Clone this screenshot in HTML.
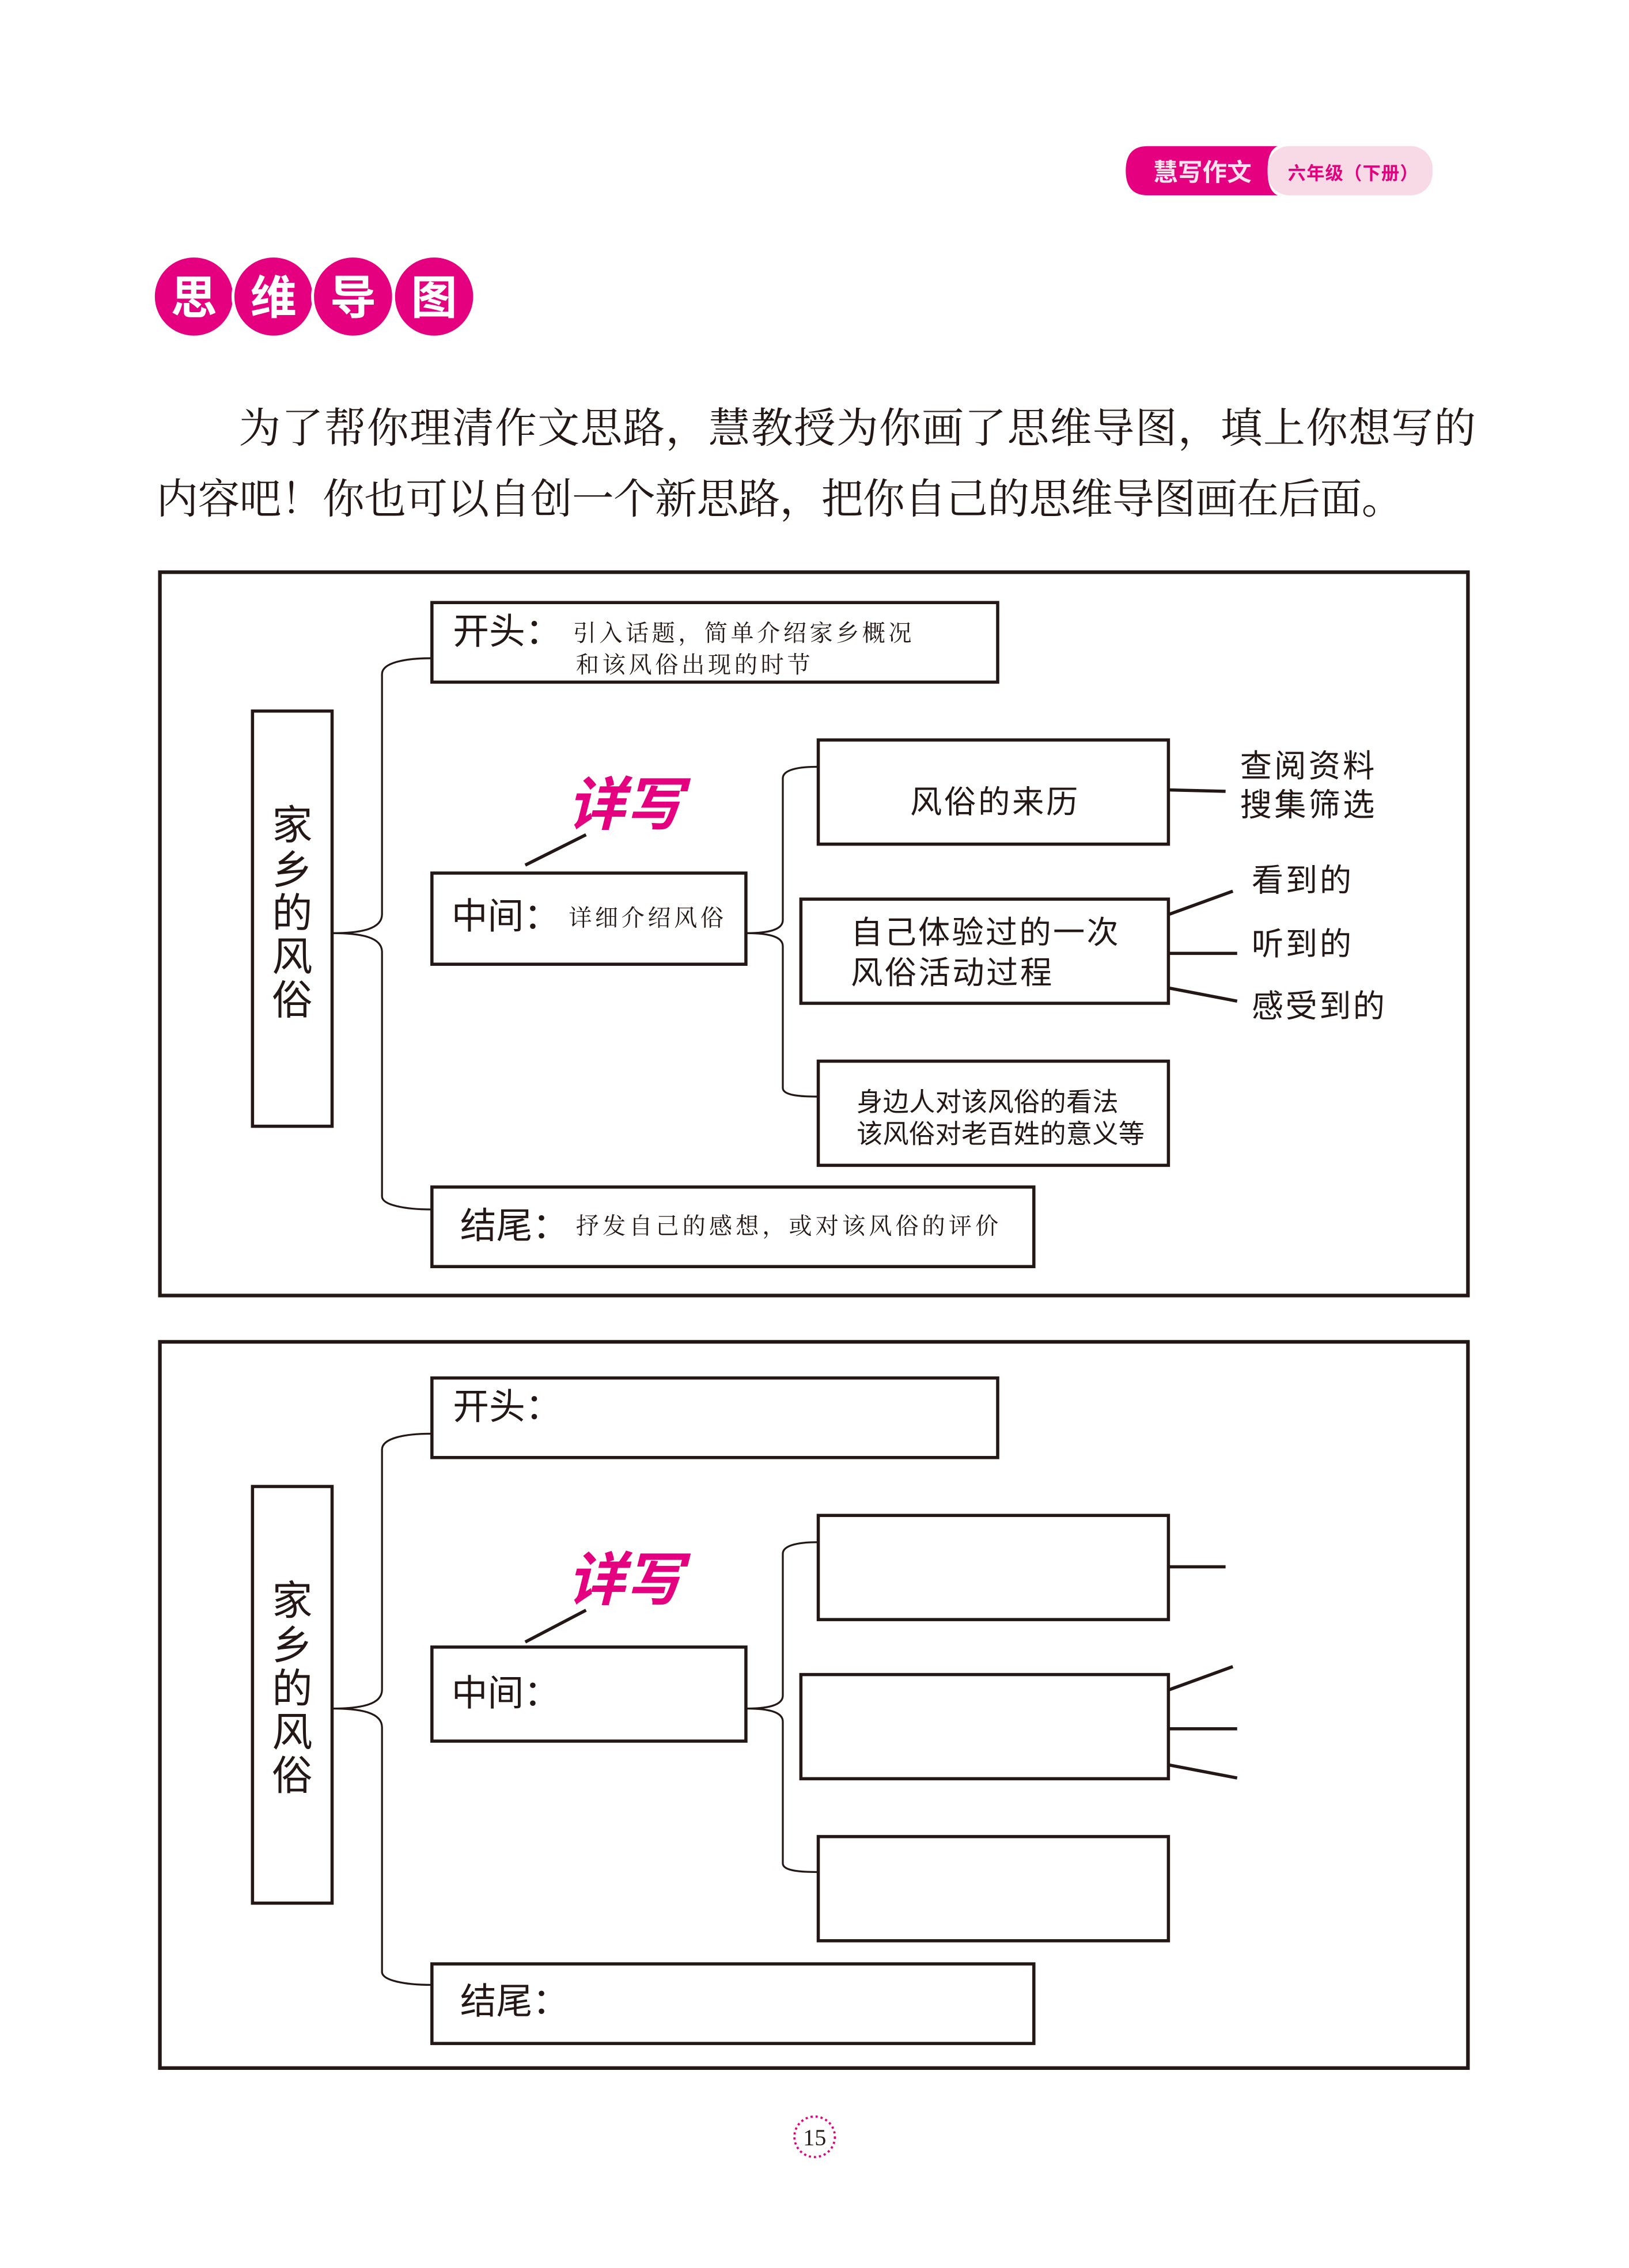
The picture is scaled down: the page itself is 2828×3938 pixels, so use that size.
<!DOCTYPE html>
<html><head><meta charset="utf-8"><style>
html,body{margin:0;padding:0;background:#fff;}
svg{display:block;}
.s{font-family:"Liberation Sans","Noto Sans CJK SC",sans-serif;fill:#231815;}
.r{font-family:"Liberation Serif","Noto Serif CJK SC",serif;fill:#231815;}
</style></head><body>
<svg width="2828" height="3938" viewBox="0 0 1125.8 1567.7" xmlns="http://www.w3.org/2000/svg">
<rect width="1125.8" height="1567.7" fill="#fff"/>
<!-- header pill -->
<rect x="876" y="101" width="114" height="34" rx="15" fill="#f8dae6"/>
<path d="M793,101 L883,101 Q876,104 876,118 Q876,132 883,135 L793,135 Q778,135 778,118 Q778,101 793,101Z" fill="#e4007f"/>
<text x="797" y="125" class="s" style="fill:#fbe3ec;font-size:17px;font-weight:bold">慧写作文</text>
<text x="890" y="124" class="s" style="fill:#e4007f;font-size:12.5px;font-weight:bold" textLength="90">六年级（下册）</text>
<!-- title circles -->
<g fill="#e4007f" stroke="#fff" stroke-width="2">
<circle cx="134" cy="205" r="28"/><circle cx="189" cy="205" r="28"/><circle cx="244" cy="205" r="28"/><circle cx="300" cy="205" r="28"/>
</g>
<g class="s" style="font-size:32px;font-weight:bold" text-anchor="middle">
<text x="134" y="217" style="fill:#fff">思</text><text x="189" y="217" style="fill:#fff">维</text><text x="244" y="217" style="fill:#fff">导</text><text x="300" y="217" style="fill:#fff">图</text>
</g>
<!-- paragraph -->
<text x="165" y="306" class="r" style="font-size:29px" textLength="855">为了帮你理清作文思路，慧教授为你画了思维导图，填上你想写的</text>
<text x="108" y="355" class="r" style="font-size:29px" textLength="862">内容吧！你也可以自创一个新思路，把你自己的思维导图画在后面。</text>

<!-- diagram 1 -->
<g fill="none" stroke="#231815">
<rect x="110.5" y="395.5" width="904" height="500" stroke-width="2.5"/>
<rect x="174.5" y="491.5" width="55" height="287" stroke-width="2.2"/>
<rect x="298.5" y="416.5" width="391" height="55" stroke-width="2.2"/>
<rect x="298.5" y="603.5" width="217" height="63" stroke-width="2.2"/>
<rect x="298.5" y="820.5" width="416" height="55" stroke-width="2.2"/>
<rect x="565.5" y="511.5" width="242" height="72" stroke-width="2.2"/>
<rect x="553.5" y="621.5" width="254" height="72" stroke-width="2.2"/>
<rect x="565.5" y="733.5" width="242" height="72" stroke-width="2.2"/>
<path d="M230,645 C250,645 264,642 264,632 L264,466 C264,458 280,455 298,455 M230,645 C250,645 264,648 264,658 L264,827 C264,833 280,836 298,836" stroke-width="1.3"/>
<path d="M516,645 C530,645 541,643 541,636 L541,538 C541,532 552,530 565,530 M516,645 C530,645 541,647 541,654 L541,752 C541,757 552,758 565,758" stroke-width="1.3"/>
<path d="M808,546 L847,547 M808,632 L852,616 M808,659 L855,659 M808,683 L855,692" stroke-width="2.2"/>
<path d="M363,598 L405,577" stroke-width="2.2"/>
</g>
<g class="s" style="font-size:28px">
<text x="202" y="580" text-anchor="middle">家</text><text x="202" y="611" text-anchor="middle">乡</text><text x="202" y="641" text-anchor="middle">的</text><text x="202" y="671" text-anchor="middle">风</text><text x="202" y="701" text-anchor="middle">俗</text>
</g>
<text x="313" y="445" class="s" style="font-size:25px">开头：</text>
<text x="396" y="443" class="r" style="font-size:16px" textLength="234">引入话题，简单介绍家乡概况</text>
<text x="398" y="465" class="r" style="font-size:16px" textLength="162">和该风俗出现的时节</text>
<text x="312" y="642" class="s" style="font-size:25px">中间：</text>
<text x="393" y="640" class="r" style="font-size:16px" textLength="107">详细介绍风俗</text>
<text x="318" y="856" class="s" style="font-size:25px">结尾：</text>
<text x="398" y="853" class="r" style="font-size:16px" textLength="292">抒发自己的感想，或对该风俗的评价</text>
<text x="392" y="570" class="s" style="fill:#e4007f;font-size:40px;font-weight:bold;font-style:italic">详写</text>
<text x="629" y="562" class="s" style="font-size:22px" textLength="116">风俗的来历</text>
<text x="588" y="652" class="s" style="font-size:22px" textLength="185">自己体验过的一次</text>
<text x="588" y="680" class="s" style="font-size:22px" textLength="139">风俗活动过程</text>
<text x="592" y="768" class="s" style="font-size:18px" textLength="181">身边人对该风俗的看法</text>
<text x="592" y="790" class="s" style="font-size:18px" textLength="199">该风俗对老百姓的意义等</text>
<text x="857" y="537" class="s" style="font-size:22px" textLength="93">查阅资料</text>
<text x="857" y="564" class="s" style="font-size:22px" textLength="93">搜集筛选</text>
<text x="865" y="616" class="s" style="font-size:22px" textLength="69">看到的</text>
<text x="865" y="660" class="s" style="font-size:22px" textLength="69">听到的</text>
<text x="865" y="703" class="s" style="font-size:22px" textLength="92">感受到的</text>

<!-- diagram 2 -->
<g transform="translate(0,532)">
<g fill="none" stroke="#231815">
<rect x="110.5" y="395.5" width="904" height="502" stroke-width="2.5"/>
<rect x="174.5" y="495.5" width="55" height="288" stroke-width="2.2"/>
<rect x="298.5" y="420.5" width="391" height="55" stroke-width="2.2"/>
<rect x="298.5" y="606.5" width="217" height="65" stroke-width="2.2"/>
<rect x="298.5" y="825.5" width="416" height="55" stroke-width="2.2"/>
<rect x="565.5" y="515.5" width="242" height="72" stroke-width="2.2"/>
<rect x="553.5" y="625.5" width="254" height="72" stroke-width="2.2"/>
<rect x="565.5" y="737.5" width="242" height="72" stroke-width="2.2"/>
<path d="M230,649 C250,649 264,646 264,636 L264,470 C264,462 280,459 298,459 M230,649 C250,649 264,652 264,662 L264,831 C264,837 280,840 298,840" stroke-width="1.3"/>
<path d="M516,649 C530,649 541,647 541,640 L541,542 C541,536 552,534 565,534 M516,649 C530,649 541,651 541,658 L541,756 C541,761 552,762 565,762" stroke-width="1.3"/>
<path d="M808,551 L847,551 M808,636 L852,620 M808,663 L855,663 M808,688 L855,697" stroke-width="2.2"/>
<path d="M363,603 L405,581" stroke-width="2.2"/>
</g>
<g class="s" style="font-size:28px">
<text x="202" y="584" text-anchor="middle">家</text><text x="202" y="615" text-anchor="middle">乡</text><text x="202" y="645" text-anchor="middle">的</text><text x="202" y="675" text-anchor="middle">风</text><text x="202" y="705" text-anchor="middle">俗</text>
</g>
<text x="313" y="449" class="s" style="font-size:25px">开头：</text>
<text x="312" y="647" class="s" style="font-size:25px">中间：</text>
<text x="318" y="860" class="s" style="font-size:25px">结尾：</text>
<text x="392" y="574" class="s" style="fill:#e4007f;font-size:40px;font-weight:bold;font-style:italic">详写</text>
</g>

<!-- page number -->
<circle cx="563" cy="1477" r="14" fill="none" stroke="#e4007f" stroke-width="1.5" stroke-dasharray="1.5 2"/>
<text x="563" y="1483" text-anchor="middle" class="r" style="font-size:16px">15</text>
</svg>
</body></html>
